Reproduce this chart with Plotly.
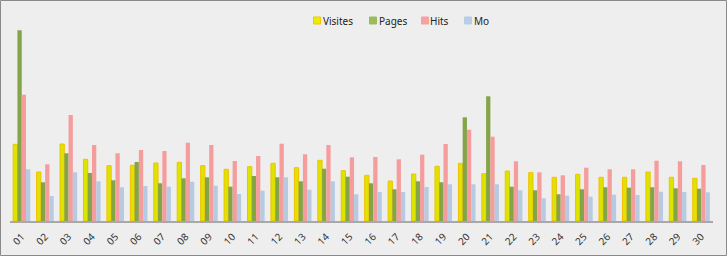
import plotly.graph_objects as go

days = ["01", "02", "03", "04", "05", "06", "07", "08", "09", "10",
        "11", "12", "13", "14", "15", "16", "17", "18", "19", "20",
        "21", "22", "23", "24", "25", "26", "27", "28", "29", "30"]

visites = [76.7, 49.0, 77.0, 61.7, 55.3, 55.7, 58.0, 58.7, 55.3, 51.7,
           54.3, 57.7, 53.3, 60.7, 50.3, 45.7, 40.0, 47.0, 54.7, 57.7,
           47.3, 50.0, 48.3, 43.7, 46.7, 43.7, 43.7, 49.0, 43.7, 42.7]
pages = [190.7, 38.7, 67.7, 48.0, 40.7, 59.0, 37.7, 42.7, 43.7, 34.3,
         45.0, 43.7, 39.7, 52.3, 44.3, 37.7, 31.7, 39.7, 38.7, 103.7,
         124.7, 34.3, 30.7, 26.7, 31.7, 33.7, 33.3, 33.7, 32.7, 32.3]
hits = [126.3, 56.7, 106.0, 76.0, 67.7, 71.0, 70.0, 78.3, 76.0, 60.0,
        65.0, 77.3, 66.7, 76.0, 63.7, 64.0, 61.7, 66.3, 77.0, 91.3,
        84.3, 59.7, 48.7, 45.7, 53.3, 51.7, 51.7, 60.3, 59.7, 56.0]
mo = [51.7, 25.0, 48.7, 39.7, 33.7, 35.0, 34.3, 39.3, 35.3, 27.0,
      30.3, 43.7, 31.3, 39.7, 26.7, 29.0, 29.0, 34.0, 36.7, 36.7,
      36.7, 30.7, 22.7, 25.3, 24.3, 26.3, 26.0, 29.3, 29.0, 28.7]

series_names = ["Visites", "Pages", "Hits", "Mo"]
series_values = [visites, pages, hits, mo]
series_fill = ["#dce400", "#84a448", "#f59c9c", "#b6cae2"]
series_line = ["#f2c000", "#84a448", "#f59c9c", "#b6cae2"]
series_lw = [1, 0, 0, 0]
legend_fill = ["#e6f000", "#9bbb59", "#f9a0a0", "#b9cde5"]
legend_line = ["#ffc000", "#9bbb59", "#f9a0a0", "#b9cde5"]
# legend layout (pixel positions of each swatch's left edge)
legend_px = [313.5, 369.5, 421.5, 464.5]

W, H = 727, 256
ml, mr, mt, mb = 10, 14, 10, 35
pw, ph = W - ml - mr, H - mt - mb


def px_x(v):
    return (v - ml) / pw


def px_y(v):
    return (H - mb - v) / ph


fig = go.Figure()
for name, vals, fc, lc, lw in zip(series_names, series_values, series_fill, series_line, series_lw):
    fig.add_trace(go.Bar(
        x=days, y=vals, name=name,
        marker=dict(color=fc, line=dict(color=lc, width=lw)),
        hoverinfo="x+y+name", showlegend=False,
    ))

shapes = [dict(
    type="rect", xref="paper", yref="paper",
    x0=-(ml - 0.5) / pw, x1=1 + (mr - 0.5) / pw,
    y0=-(mb - 0.5) / ph, y1=1 + (mt - 0.5) / ph,
    line=dict(color="#8a8a8a", width=1), fillcolor="rgba(0,0,0,0)",
)]
annotations = []
sw = 7
ytop, ymid = 17, 20.5
for name, lx, fc, lc in zip(series_names, legend_px, legend_fill, legend_line):
    shapes.append(dict(
        type="rect", xref="paper", yref="paper",
        x0=px_x(lx), x1=px_x(lx + sw), y0=px_y(ytop + sw), y1=px_y(ytop),
        line=dict(color=lc, width=1), fillcolor=fc,
    ))
    annotations.append(dict(
        xref="paper", yref="paper", x=px_x(lx + sw + 1), y=px_y(ymid),
        xanchor="left", yanchor="middle", text=name, showarrow=False,
        borderpad=0, font=dict(size=10, color="#222222"),
    ))

fig.update_layout(
    width=W, height=H,
    margin=dict(l=ml, r=mr, t=mt, b=mb),
    paper_bgcolor="#eeeeee",
    plot_bgcolor="#eeeeee",
    barmode="group",
    bargap=0.27,
    bargroupgap=0,
    showlegend=False,
    font=dict(family="Noto Sans, DejaVu Sans, sans-serif", size=10, color="#333333"),
    xaxis=dict(
        showgrid=False, zeroline=False, automargin=False,
        showline=True, linecolor="#a8a8a8", linewidth=2,
        tickangle=-45, ticks="outside", ticklen=4, tickcolor="rgba(0,0,0,0)",
        tickfont=dict(size=10, color="#333333"),
    ),
    yaxis=dict(
        range=[0, ph], showgrid=False, zeroline=False, automargin=False,
        showticklabels=False, showline=False, ticks="",
    ),
    shapes=shapes,
    annotations=annotations,
)

fig.write_html("out.html")
